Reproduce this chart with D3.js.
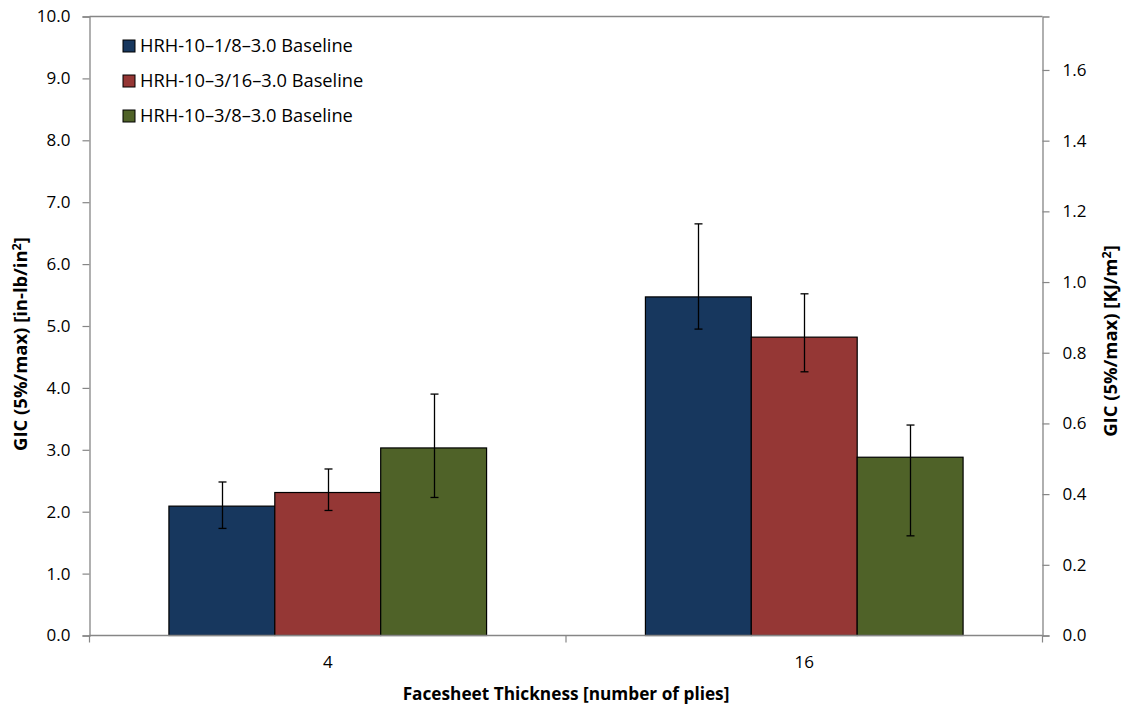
<!DOCTYPE html>
<html>
<head>
<meta charset="utf-8">
<script src="https://cdn.jsdelivr.net/npm/d3@7"></script>
<style>
  html, body { margin: 0; padding: 0; background: #fff; }
  svg { display: block; font-family: "Open Sans", Lato, sans-serif; }
</style>
</head>
<body>
<svg id="chart" width="1122" height="706"></svg>
<script>
// Facesheet thickness groups and the three core/density baselines
const categories = ["4", "16"];
const seriesNames = [
  "HRH-10\u20131/8\u20133.0 Baseline",
  "HRH-10\u20133/16\u20133.0 Baseline",
  "HRH-10\u20133/8\u20133.0 Baseline"
];
const seriesColors = ["#17375E", "#953735", "#4F6228"];

// Mean GIC values [in-lb/in²] per series, one entry per category
const meanHRH18 = [2.09, 5.47];
const meanHRH316 = [2.31, 4.82];
const meanHRH38 = [3.03, 2.88];

// Error bar extents (upper and lower ends) [in-lb/in²]
const errHighHRH18 = [2.48, 6.65];
const errLowHRH18 = [1.73, 4.95];
const errHighHRH316 = [2.69, 5.52];
const errLowHRH316 = [2.02, 4.26];
const errHighHRH38 = [3.90, 3.40];
const errLowHRH38 = [2.23, 1.61];

const leftTicks = [0, 1, 2, 3, 4, 5, 6, 7, 8, 9, 10];
const rightTicks = [0, 0.2, 0.4, 0.6, 0.8, 1.0, 1.2, 1.4, 1.6];
const IN_LB_PER_IN2_TO_KJ_PER_M2 = 0.17513;

const series = [
  { name: seriesNames[0], color: seriesColors[0], mean: meanHRH18, hi: errHighHRH18, lo: errLowHRH18 },
  { name: seriesNames[1], color: seriesColors[1], mean: meanHRH316, hi: errHighHRH316, lo: errLowHRH316 },
  { name: seriesNames[2], color: seriesColors[2], mean: meanHRH38, hi: errHighHRH38, lo: errLowHRH38 }
];

const svg = d3.select("#chart");
const plot = { left: 89.5, right: 1042.5, top: 16.5, bottom: 635.5 };
const axisColor = "#868686";
const tickFont = 17;

// Scale a text's font so its run length equals the wanted width
function fitFont(sel, baseSize, wanted) {
  const len = sel.node().getComputedTextLength();
  const size = baseSize * wanted / len;
  sel.style("font-size", size + "px");
  return size;
}

const x = d3.scaleBand().domain(categories).range([plot.left, plot.right]).padding(0);
const xs = d3.scaleBand().domain(d3.range(series.length))
  .range([0, x.bandwidth()]).paddingInner(0).paddingOuter(0.75);
const y = d3.scaleLinear().domain([0, 10]).range([plot.bottom, plot.top]);
const yR = d3.scaleLinear().domain([0, 10 * IN_LB_PER_IN2_TO_KJ_PER_M2]).range([plot.bottom, plot.top]);

// Bars
const bars = [];
series.forEach((s, si) => categories.forEach((c, ci) => bars.push({ s, si, c, v: s.mean[ci], hi: s.hi[ci], lo: s.lo[ci] })));

svg.append("g").selectAll("rect").data(bars).join("rect")
  .attr("x", d => x(d.c) + xs(d.si))
  .attr("y", d => y(d.v))
  .attr("width", xs.bandwidth())
  .attr("height", d => y(0) - y(d.v))
  .attr("fill", d => d.s.color)
  .attr("stroke", "#000")
  .attr("stroke-width", 1.2);

// Error bars
const eg = svg.append("g").attr("stroke", "#000").attr("stroke-width", 1.3);
bars.forEach(d => {
  const cx = Math.round(x(d.c) + xs(d.si) + xs.bandwidth() / 2) + 0.5;
  eg.append("line").attr("x1", cx).attr("x2", cx).attr("y1", y(d.hi)).attr("y2", y(d.lo));
  [d.hi, d.lo].forEach(v => eg.append("line")
    .attr("x1", cx - 4).attr("x2", cx + 4).attr("y1", y(v)).attr("y2", y(v)));
});

// Plot frame top edge
svg.append("line").attr("x1", plot.left).attr("x2", plot.right)
  .attr("y1", plot.top).attr("y2", plot.top).attr("stroke", axisColor).attr("stroke-width", 1.3);

// Left axis
const gL = svg.append("g").attr("transform", `translate(${plot.left},0)`)
  .call(d3.axisLeft(y).tickValues(leftTicks).tickFormat(d3.format(".1f")).tickSize(7).tickPadding(12));
// Right axis
const gR = svg.append("g").attr("transform", `translate(${plot.right},0)`)
  .call(d3.axisRight(yR).tickValues(rightTicks).tickFormat(d3.format(".1f")).tickSize(7).tickPadding(13));
[gL, gR].forEach(g => {
  g.select(".domain").attr("stroke", axisColor).attr("stroke-width", 1.3);
  g.selectAll(".tick line").attr("stroke", axisColor).attr("stroke-width", 1.2);
  g.selectAll(".tick text").attr("fill", "#000").style("font-size", tickFont + "px")
    .style("font-family", "'Open Sans', Lato, sans-serif");
});

// Bottom axis: ticks at category boundaries, labels at category centres
const boundaries = [plot.left].concat(categories.map(c => x(c) + x.bandwidth()));
const gB = svg.append("g");
gB.append("line").attr("x1", plot.left).attr("x2", plot.right)
  .attr("y1", plot.bottom).attr("y2", plot.bottom).attr("stroke", axisColor).attr("stroke-width", 1.5);
gB.selectAll("line.tk").data(boundaries).join("line").attr("class", "tk")
  .attr("x1", d => d).attr("x2", d => d).attr("y1", plot.bottom).attr("y2", plot.bottom + 7)
  .attr("stroke", axisColor).attr("stroke-width", 1.2);
gB.selectAll("text").data(categories).join("text")
  .attr("x", d => x(d) + x.bandwidth() / 2).attr("y", 668)
  .attr("text-anchor", "middle").style("font-size", tickFont + "px").text(d => d);

// Axis titles
const xt = svg.append("text").attr("x", 566).attr("y", 700).attr("text-anchor", "middle")
  .style("font-size", "16px").style("font-weight", "bold").text("Facesheet Thickness [number of plies]");
fitFont(xt, 16, 327);

function rotatedTitle(cx, cy, main, size) {
  const t = svg.append("text").attr("transform", `translate(${cx},${cy}) rotate(-90)`)
    .attr("text-anchor", "middle").style("font-size", size + "px").style("font-weight", "bold");
  t.append("tspan").text(main);
  t.append("tspan").attr("dy", -6).style("font-size", "0.68em").text("2");
  t.append("tspan").attr("dy", 6).text("]");
  return t;
}
const yTitleL = rotatedTitle(27, 344, "GIC (5%/max)  [in-lb/in", 16);
const yTitleSize = fitFont(yTitleL, 16, 214);
rotatedTitle(1117, 341, "GIC (5%/max) [KJ/m", yTitleSize);

// Legend
const legend = svg.append("g").attr("transform", "translate(123,46)");
const li = legend.selectAll("g").data(series).join("g")
  .attr("transform", (d, i) => `translate(0,${i * 35})`);
li.append("rect").attr("x", 0).attr("y", -6).attr("width", 12).attr("height", 12)
  .attr("fill", d => d.color).attr("stroke", "#000").attr("stroke-width", 1);
const lt = li.append("text").attr("x", 17).attr("y", 6).style("font-size", "16px").text(d => d.name);
const legendSize = fitFont(d3.select(lt.nodes()[0]), 16, 213);
lt.style("font-size", legendSize + "px");
</script>
</body>
</html>
